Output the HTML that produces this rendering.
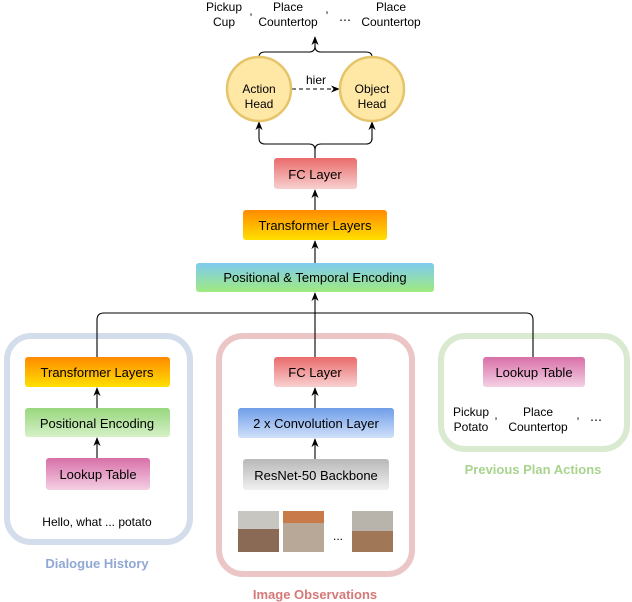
<!DOCTYPE html>
<html><head><meta charset="utf-8"><style>
body{margin:0;background:#fff;}
svg{display:block;font-family:"Liberation Sans",sans-serif;}
</style></head><body>
<svg width="632" height="602" viewBox="0 0 632 602" xmlns="http://www.w3.org/2000/svg">
<defs>
<linearGradient id="red" x1="0" y1="0" x2="0" y2="1"><stop offset="0" stop-color="#ea6b6b"/><stop offset="1" stop-color="#f8d0d0"/></linearGradient>
<linearGradient id="orange" x1="0" y1="0" x2="0" y2="1"><stop offset="0" stop-color="#ff8a00"/><stop offset="1" stop-color="#ffe000"/></linearGradient>
<linearGradient id="pte" x1="0" y1="0" x2="0" y2="1"><stop offset="0" stop-color="#7ecbf0"/><stop offset="1" stop-color="#a0ea80"/></linearGradient>
<linearGradient id="green" x1="0" y1="0" x2="0" y2="1"><stop offset="0" stop-color="#98d77e"/><stop offset="1" stop-color="#d6f0c8"/></linearGradient>
<linearGradient id="pink" x1="0" y1="0" x2="0" y2="1"><stop offset="0" stop-color="#d870a8"/><stop offset="1" stop-color="#f4d0e4"/></linearGradient>
<linearGradient id="blue" x1="0" y1="0" x2="0" y2="1"><stop offset="0" stop-color="#6f9ee8"/><stop offset="1" stop-color="#d0e0fa"/></linearGradient>
<linearGradient id="grey" x1="0" y1="0" x2="0" y2="1"><stop offset="0" stop-color="#b8b8b8"/><stop offset="1" stop-color="#f0f0f0"/></linearGradient>
<marker id="ar" viewBox="0 0 10 10" refX="9" refY="5" markerWidth="9" markerHeight="9" markerUnits="userSpaceOnUse" orient="auto"><path d="M0,1 L10,5 L0,9 L3,5 z" fill="#000"/></marker>
</defs>

<rect x="7" y="336" width="183" height="206" rx="24" fill="none" stroke="#d4ddeb" stroke-width="6"/>
<rect x="219" y="336" width="193" height="238" rx="24" fill="none" stroke="#ecc6c6" stroke-width="6"/>
<rect x="441" y="336" width="186" height="113" rx="24" fill="none" stroke="#d9ead0" stroke-width="6"/>

<g font-size="13" font-weight="bold" text-anchor="middle">
<text x="97" y="568" fill="#8fa8d4">Dialogue History</text>
<text x="315" y="599" fill="#d57878">Image Observations</text>
<text x="533" y="474" fill="#a8d48e">Previous Plan Actions</text>
</g>

<g fill="none" stroke="#000" stroke-width="1.1">
<path d="M97,357 V320 Q97,313 104,313 H526 Q533,313 533,320 V357"/>
<path d="M315,357 V293" marker-end="url(#ar)"/>
<path d="M97,408 V388" marker-end="url(#ar)"/>
<path d="M97,458 V438" marker-end="url(#ar)"/>
<path d="M315,408 V388" marker-end="url(#ar)"/>
<path d="M315,459 V439" marker-end="url(#ar)"/>
<path d="M315,263 V241" marker-end="url(#ar)"/>
<path d="M315,210 V190" marker-end="url(#ar)"/>
<path d="M315,158 V150 Q315,144 309,144 H265 Q259,144 259,138 V122" marker-end="url(#ar)"/>
<path d="M315,150 Q315,144 321,144 H366 Q372,144 372,138"/>
<path d="M372,140 V122" marker-end="url(#ar)"/>
<path d="M259,57 V62 M259,57 Q259,52 265,52 H309 Q315,52 315,46 V37" marker-end="url(#ar)"/>
<path d="M372,57 Q372,52 366,52 H321 Q315,52 315,46"/>
<path d="M292,89 H339" stroke-dasharray="4,3" marker-end="url(#ar)"/>
</g>

<circle cx="259" cy="89" r="32" fill="#ffe7a6" stroke="#e5c46a" stroke-width="2.5"/>
<circle cx="372" cy="89" r="32" fill="#ffe7a6" stroke="#e5c46a" stroke-width="2.5"/>

<g stroke="none">
<rect x="274" y="158" width="83" height="31" rx="3" fill="url(#red)"/>
<rect x="243" y="210" width="144" height="30" rx="3" fill="url(#orange)"/>
<rect x="196" y="263" width="238" height="29" rx="3" fill="url(#pte)"/>
<rect x="25" y="357" width="145" height="30" rx="3" fill="url(#orange)"/>
<rect x="25" y="408" width="145" height="29" rx="3" fill="url(#green)"/>
<rect x="46" y="458" width="104" height="32" rx="3" fill="url(#pink)"/>
<rect x="274" y="357" width="83" height="30" rx="3" fill="url(#red)"/>
<rect x="238" y="408" width="156" height="30" rx="3" fill="url(#blue)"/>
<rect x="243" y="459" width="146" height="31" rx="3" fill="url(#grey)"/>
<rect x="483" y="357" width="102" height="30" rx="3" fill="url(#pink)"/>
</g>

<rect x="238" y="511" width="41" height="41" fill="#8a6a55"/>
<rect x="238" y="511" width="41" height="18" fill="#c8c6c0"/>
<rect x="283" y="511" width="41" height="41" fill="#b8a898"/>
<rect x="283" y="511" width="41" height="12" fill="#c87a48"/>
<rect x="352" y="511" width="41" height="41" fill="#a07858"/>
<rect x="352" y="511" width="41" height="20" fill="#b8b4ac"/>
<text x="338" y="540" font-size="12" text-anchor="middle">...</text>

<g font-size="13" text-anchor="middle" fill="#000">
<text x="315" y="179">FC Layer</text>
<text x="315" y="230">Transformer Layers</text>
<text x="315" y="282">Positional &amp; Temporal Encoding</text>
<text x="97" y="377">Transformer Layers</text>
<text x="97" y="428">Positional Encoding</text>
<text x="98" y="479">Lookup Table</text>
<text x="97" y="526" font-size="12">Hello, what ... potato</text>
<text x="315" y="377">FC Layer</text>
<text x="316" y="428">2 x Convolution Layer</text>
<text x="316" y="480">ResNet-50 Backbone</text>
<text x="534" y="377">Lookup Table</text>
<text x="259" y="93" font-size="12">Action</text>
<text x="259" y="108" font-size="12">Head</text>
<text x="372" y="93" font-size="12">Object</text>
<text x="372" y="108" font-size="12">Head</text>
<text x="316" y="84" font-size="12">hier</text>
</g>
<g font-size="12" text-anchor="middle">
<text x="224" y="11">Pickup</text><text x="224" y="26">Cup</text>
<text x="251" y="22">’</text>
<text x="288" y="11">Place</text><text x="288" y="26">Countertop</text>
<text x="327" y="20">’</text>
<text x="345" y="24">⋯</text>
<text x="391" y="11">Place</text><text x="391" y="26">Countertop</text>
<text x="471" y="416">Pickup</text><text x="471" y="431">Potato</text>
<text x="496" y="426">’</text>
<text x="538" y="416">Place</text><text x="538" y="431">Countertop</text>
<text x="578" y="426">’</text>
<text x="596" y="424">⋯</text>
</g>
</svg>
</body></html>
